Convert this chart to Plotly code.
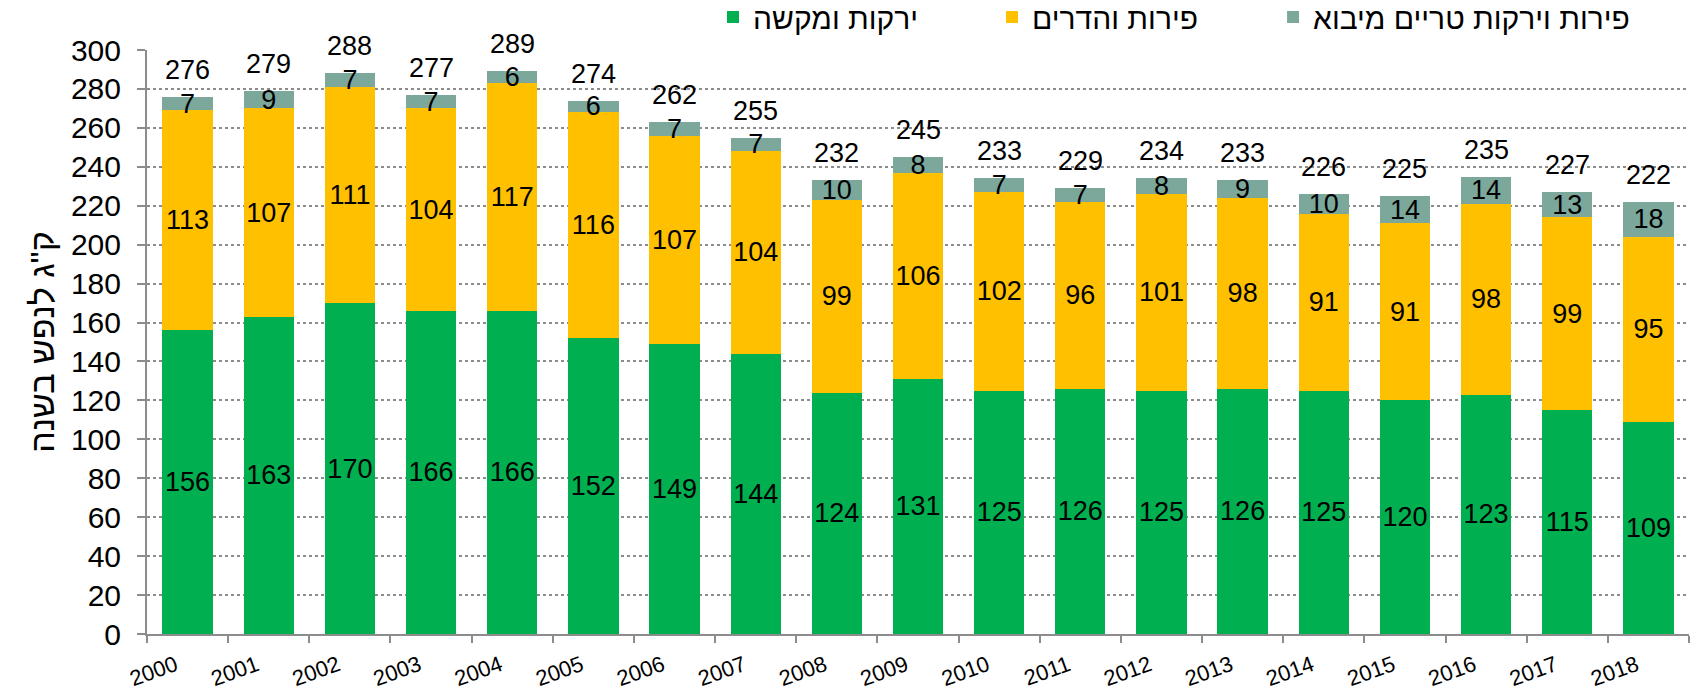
import plotly.graph_objects as go

years = [str(y) for y in range(2000, 2019)]
vegetables = [156,163,170,166,166,152,149,144,124,131,125,126,125,126,125,120,123,115,109]
fruits = [113,107,111,104,117,116,107,104,99,106,102,96,101,98,91,91,98,99,95]
imported = [7,9,7,7,6,6,7,7,10,8,7,7,8,9,10,14,14,13,18]
totals = [276,279,288,277,289,274,262,255,232,245,233,229,234,233,226,225,235,227,222]

names = ["ירקות ומקשה", "פירות והדרים", "פירות וירקות טריים מיבוא"]
colors = ["#00B050", "#FFC000", "#7BA89B"]
series = [vegetables, fruits, imported]
legend_ids = ["legend", "legend2", "legend3"]
legend_x = [0.4219, 0.5870, 0.7533]

FONT = "Liberation Sans, Arial, sans-serif"

fig = go.Figure()
for name, col, vals, lg in zip(names, colors, series, legend_ids):
    fig.add_trace(go.Bar(
        x=years, y=vals, name=name, legend=lg,
        marker=dict(color=col, line=dict(width=0)),
        text=[str(v) for v in vals],
        textposition="inside", insidetextanchor="middle",
        textangle=0, constraintext="none",
        textfont=dict(family=FONT, size=27, color="black"),
    ))

stack_tops = [a + b + c for a, b, c in zip(vegetables, fruits, imported)]
for i, (top, t) in enumerate(zip(stack_tops, totals)):
    fig.add_annotation(x=i, y=top, xref="x", yref="y", text=str(t), showarrow=False,
                       yanchor="bottom", yshift=10,
                       font=dict(family=FONT, size=27, color="black"))

legend_common = dict(orientation="h", xanchor="left", yref="container", xref="container",
                     y=1 - 17 / 690, yanchor="middle",
                     font=dict(family=FONT, size=30, color="black"),
                     bgcolor="rgba(0,0,0,0)")
fig.update_layout(
    width=1690, height=690,
    barmode="stack", bargap=0.38,
    plot_bgcolor="white", paper_bgcolor="white",
    margin=dict(l=147, r=1, t=50, b=56, autoexpand=False),
    font=dict(family=FONT, color="black"),
    legend=dict(x=legend_x[0], **legend_common),
    legend2=dict(x=legend_x[1], **legend_common),
    legend3=dict(x=legend_x[2], **legend_common),
    showlegend=True,
)
fig.update_yaxes(
    range=[0, 300], dtick=20, tick0=0,
    showgrid=True, gridcolor="#8C8C8C", griddash="dot", gridwidth=1.5,
    showline=True, linecolor="#8C8C8C", linewidth=2,
    ticks="outside", ticklen=8, tickcolor="#8C8C8C", tickwidth=2,
    tickfont=dict(family=FONT, size=30, color="black"),
    ticklabelstandoff=10,
    title=dict(text='ק"ג לנפש בשנה', font=dict(family=FONT, size=34, color="black"), standoff=6),
    zeroline=False,
)
fig.update_xaxes(
    type="category", tickson="boundaries", range=[-0.5, 18.5],
    showline=True, linecolor="#8C8C8C", linewidth=2,
    ticks="outside", ticklen=7, tickcolor="#8C8C8C", tickwidth=2,
    tickangle=-20, tickfont=dict(family=FONT, size=22, color="black"),
    ticklabelstandoff=8, ticklabelshift=-12,
    showgrid=False,
)

fig.write_html("out.html", config={"displayModeBar": False},
               post_script="document.body.style.margin='0';")
